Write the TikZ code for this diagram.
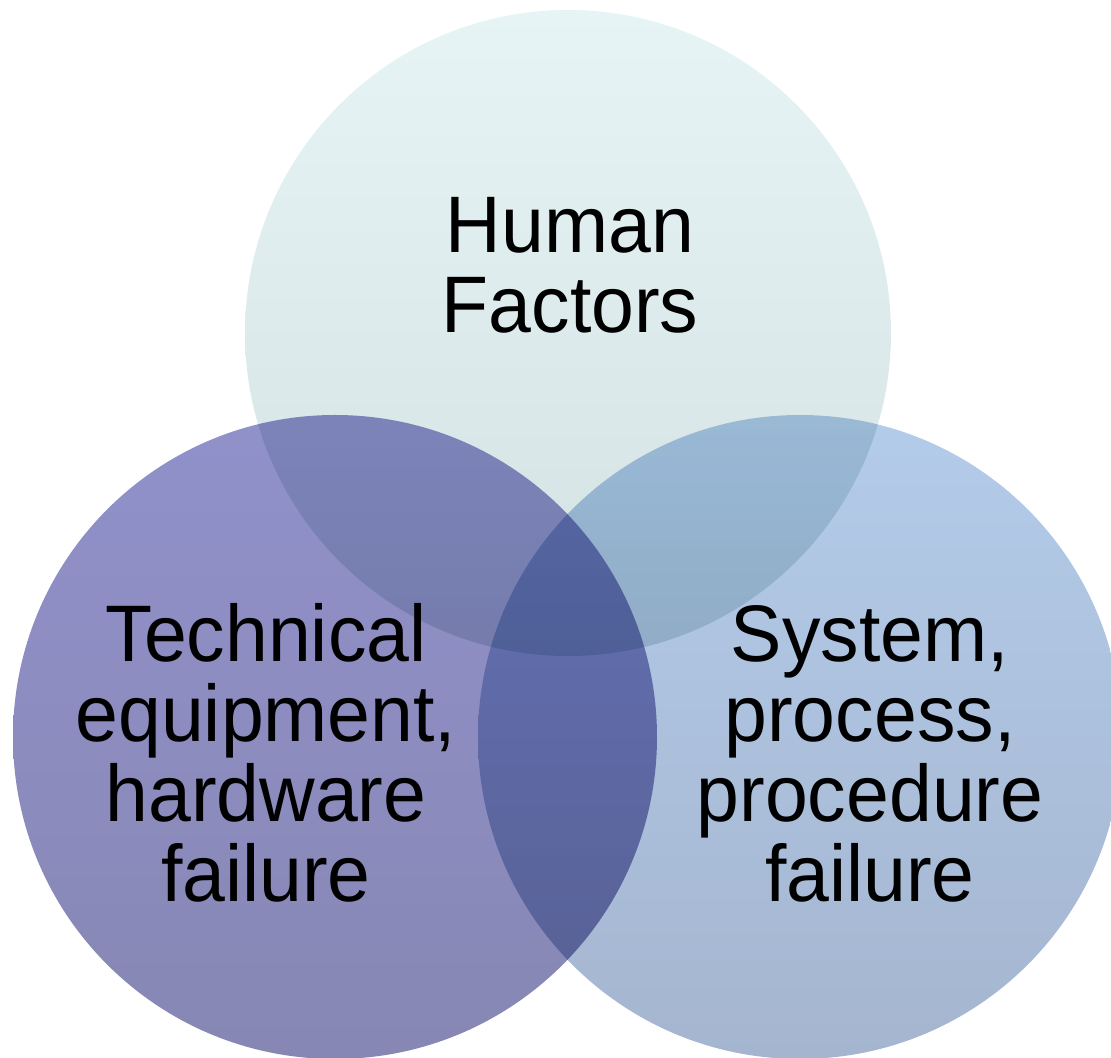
\documentclass[tikz,border=0pt]{standalone}
\usepackage{fontspec}
\setmainfont{Liberation Sans}[FakeStretch=0.96]
\usetikzlibrary{positioning}

\definecolor{humtop}{HTML}{E7F4F6}
\definecolor{humbot}{HTML}{D4E1E2}
\definecolor{techtop}{HTML}{9191CB}
\definecolor{techbot}{HTML}{8787B4}
\definecolor{systop}{HTML}{B3CCEA}
\definecolor{sysbot}{HTML}{A5B5CF}

\begin{document}
\begin{tikzpicture}[x=0.01cm,y=-0.01cm]
\tikzset{lbl/.style={align=center,anchor=base,inner sep=0pt,
  font=\fontsize{22.8}{22.8}\selectfont}}
\useasboundingbox (0,0) rectangle (1111,1058);
% circle centres
\coordinate (hum) at (568,333);
\coordinate (tech) at (335,737);
\coordinate (sys) at (800,737);
\begin{scope}[blend group=multiply]
\shade [top color=humtop,bottom color=humbot] (hum) circle (323);
\shade [top color=techtop,bottom color=techbot] (tech) circle (322);
\shade [top color=systop,bottom color=sysbot] (sys) circle (322);
\end{scope}
% labels (base = last line)
\node [lbl] (humtxt) at (570,333) {Human\\Factors};
\node [lbl] (techtxt) at (266,902) {Technical\\equipment,\\hardware\\failure};
\node [lbl] (systxt) at (870,902) {System,\\process,\\procedure\\failure};
\end{tikzpicture}
\end{document}
